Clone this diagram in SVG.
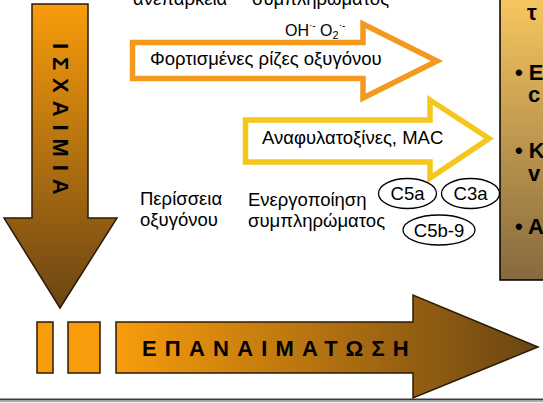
<svg xmlns="http://www.w3.org/2000/svg" width="543" height="403" viewBox="0 0 543 403">
<defs>
<linearGradient id="gDown" x1="0" y1="0" x2="0" y2="1">
<stop offset="0" stop-color="#F89C0C"/>
<stop offset="1" stop-color="#6A4514"/>
</linearGradient>
<linearGradient id="gRight" gradientUnits="userSpaceOnUse" x1="116" y1="0" x2="538" y2="0">
<stop offset="0" stop-color="#F89C0C"/>
<stop offset="1" stop-color="#6A4514"/>
</linearGradient>
<linearGradient id="gBox" x1="0" y1="0" x2="0" y2="1">
<stop offset="0" stop-color="#F8C760"/>
<stop offset="1" stop-color="#86693E"/>
</linearGradient>
</defs>
<style>
text{font-family:"Liberation Sans",Arial,sans-serif;fill:#000;}
.t{font-size:18.5px;}
.b{font-weight:bold;}
.solid{stroke:#2a1a08;stroke-width:1.5;stroke-linejoin:miter;}
.hollow{fill:#fff;stroke-width:5.5;stroke-linejoin:miter;}
.ell{fill:#fff;stroke:#000;stroke-width:1.3;}
</style>
<rect width="543" height="403" fill="#fff"/>

<g id="box-right">
<rect x="500" y="-5" width="60" height="285" fill="url(#gBox)" stroke="#000" stroke-width="1.5"/>
<text x="527" y="20" class="b" font-size="22">τ</text>
<text x="515" y="80" class="b" font-size="22">• Ε</text>
<text x="528" y="102" class="b" font-size="22">c</text>
<text x="515" y="158" class="b" font-size="22">• Κ</text>
<text x="528" y="181" class="b" font-size="22">v</text>
<text x="515" y="234" class="b" font-size="22">• Α</text>
</g>

<g id="ischaimia">
<path class="solid" d="M32,4 L88,4 L88,218 L117,218 L60,308 L4,218 L32,218 Z" fill="url(#gDown)"/>
<text class="b" font-size="22" letter-spacing="7.9" transform="translate(52.8,43) rotate(90)">ΙΣΧΑΙΜΙΑ</text>
</g>

<g id="top-labels">
<text x="133" y="4.5" class="t">ανεπάρκεια</text>
<text x="252" y="4.5" class="t">συμπληρώματος</text>
</g>

<g id="radicals">
<path class="hollow" stroke="#F39A1E" d="M132.5,42.5 L363,42.5 L363,24 L437,61 L363,98 L363,78.5 L132.5,78.5 Z"/>
<text x="150" y="65" class="t">Φορτισμένες ρίζες οξυγόνου</text>
<text x="285" y="36" font-size="16">OH<tspan font-size="10" dy="-7">·-</tspan><tspan dy="7"> O</tspan><tspan font-size="11" dy="3">2</tspan><tspan font-size="10" dy="-10">·-</tspan></text>
</g>

<g id="anaphylatoxins">
<path class="hollow" stroke="#F5C71C" d="M245.5,120 L430,120 L430,100 L489,138.5 L430,178 L430,162 L245.5,162 Z"/>
<text x="262" y="144" class="t">Αναφυλατοξίνες, MAC</text>
</g>

<g id="oxygen-excess">
<text x="140" y="205" class="t">Περίσσεια</text>
<text x="140" y="226" class="t">οξυγόνου</text>
</g>

<g id="complement">
<text x="248" y="206" class="t">Ενεργοποίηση</text>
<text x="248" y="227" class="t">συμπληρώματος</text>
<ellipse id="c5a" class="ell" cx="407.5" cy="193.5" rx="29" ry="15"/>
<text x="407.5" y="200" class="t" text-anchor="middle">C5a</text>
<ellipse id="c3a" class="ell" cx="470.5" cy="193.5" rx="29" ry="15"/>
<text x="470.5" y="200" class="t" text-anchor="middle">C3a</text>
<ellipse id="c5b9" class="ell" cx="439" cy="230" rx="36" ry="15"/>
<text x="439" y="237" class="t" text-anchor="middle">C5b-9</text>
</g>

<g id="reperfusion">
<rect class="solid" x="37" y="322" width="16" height="51" fill="#F89C0C"/>
<rect class="solid" x="68" y="322" width="32" height="51" fill="#F89C0C"/>
<path class="solid" d="M116,322 L413,322 L413,295 L538,347 L413,398 L413,373 L116,373 Z" fill="url(#gRight)"/>
<text x="142" y="356" class="b" font-size="22" letter-spacing="8.2">ΕΠΑΝΑΙΜΑΤΩΣΗ</text>
</g>

<g id="baseline">
<line x1="0" y1="399.5" x2="543" y2="399.5" stroke="#3a3a3a" stroke-width="2"/>
<line x1="0" y1="401.5" x2="543" y2="401.5" stroke="#b0b0b0" stroke-width="1.5"/>
</g>
</svg>
